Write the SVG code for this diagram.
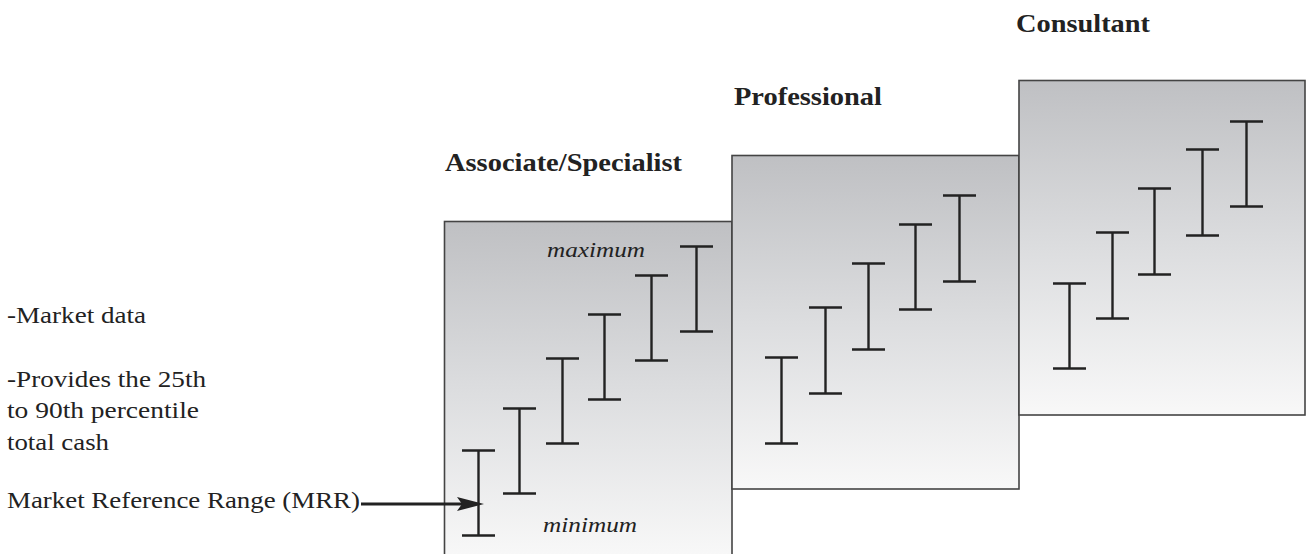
<svg xmlns="http://www.w3.org/2000/svg" width="1306" height="554" viewBox="0 0 1306 554">
<defs>
<linearGradient id="g" x1="0" y1="0" x2="0" y2="1">
<stop offset="0" stop-color="#bfc0c3"/>
<stop offset="0.5" stop-color="#dcdddf"/>
<stop offset="1" stop-color="#f8f8f8"/>
</linearGradient>
<style>
.panel{fill:url(#g);stroke:#444;stroke-width:1.6}
.bar{stroke:#222;stroke-width:2.4;fill:none}
.title{font-weight:bold;font-size:26px;fill:#222}
.lbl{font-size:23px;fill:#222}
.it{font-style:italic;font-size:22px;fill:#222}
</style>
</defs>
<rect width="1306" height="554" fill="#fff"/>
<g id="panel-associate">
<rect class="panel" x="444.5" y="221.5" width="287.5" height="336"/>
<path class="bar" d="M462 450.5h33M462 535.5h33M478.5 450.5v85"/>
<path class="bar" d="M503 408.5h33M503 493.5h33M519.5 408.5v85"/>
<path class="bar" d="M546 358.5h33M546 443.5h33M562.5 358.5v85"/>
<path class="bar" d="M588 314.5h33M588 399.5h33M604.5 314.5v85"/>
<path class="bar" d="M635 275.5h33M635 360.5h33M651.5 275.5v85"/>
<path class="bar" d="M680 246.5h33M680 331.5h33M696.5 246.5v85"/>
<text class="it" font-family="Liberation Serif, serif" x="596" y="257" text-anchor="middle" textLength="98" lengthAdjust="spacingAndGlyphs">maximum</text>
<text class="it" font-family="Liberation Serif, serif" x="590" y="532" text-anchor="middle" textLength="94" lengthAdjust="spacingAndGlyphs">minimum</text>
<text class="title" font-family="Liberation Serif, serif" x="445" y="171" textLength="237" lengthAdjust="spacingAndGlyphs">Associate/Specialist</text>
</g>
<g id="panel-professional">
<rect class="panel" x="732" y="155.5" width="287" height="333.5"/>
<path class="bar" d="M765 357.5h33M765 443.5h33M781.5 357.5v86"/>
<path class="bar" d="M809 307.5h33M809 393.5h33M825.5 307.5v86"/>
<path class="bar" d="M852 263.5h33M852 349.5h33M868.5 263.5v86"/>
<path class="bar" d="M899 224.5h33M899 309.5h33M915.5 224.5v85"/>
<path class="bar" d="M943 195.5h33M943 281.5h33M959.5 195.5v86"/>
<text class="title" font-family="Liberation Serif, serif" x="734" y="105" textLength="148" lengthAdjust="spacingAndGlyphs">Professional</text>
</g>
<g id="panel-consultant">
<rect class="panel" x="1019" y="80.5" width="286" height="334.5"/>
<path class="bar" d="M1053 283.5h33M1053 368.5h33M1069.5 283.5v85"/>
<path class="bar" d="M1096 232.5h33M1096 318.5h33M1112.5 232.5v86"/>
<path class="bar" d="M1138 188.5h33M1138 274.5h33M1154.5 188.5v86"/>
<path class="bar" d="M1186 149.5h33M1186 235.5h33M1202.5 149.5v86"/>
<path class="bar" d="M1230 121.5h33M1230 206.5h33M1246.5 121.5v85"/>
<text class="title" font-family="Liberation Serif, serif" x="1016" y="32" textLength="134" lengthAdjust="spacingAndGlyphs">Consultant</text>
</g>
<g id="notes" font-family="Liberation Serif, serif">
<text class="lbl" x="7" y="323" textLength="139" lengthAdjust="spacingAndGlyphs">-Market data</text>
<text class="lbl" x="7" y="387" textLength="199" lengthAdjust="spacingAndGlyphs">-Provides the 25th</text>
<text class="lbl" x="7" y="418" textLength="192" lengthAdjust="spacingAndGlyphs">to 90th percentile</text>
<text class="lbl" x="7" y="450" textLength="102" lengthAdjust="spacingAndGlyphs">total cash</text>
<text class="lbl" x="7" y="508" textLength="353" lengthAdjust="spacingAndGlyphs">Market Reference Range (MRR)</text>
</g>
<g id="connectors">
<line x1="361" y1="504" x2="462" y2="504" stroke="#222" stroke-width="3"/>
<path d="M484 504L457 497L462 504L457 511Z" fill="#222"/>
</g>
</svg>
